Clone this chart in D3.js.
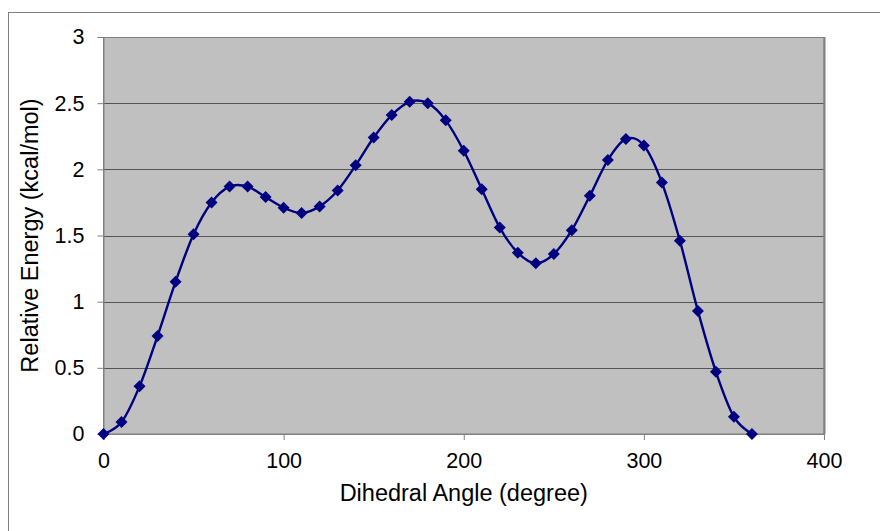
<!DOCTYPE html>
<html><head><meta charset="utf-8">
<script src="https://cdn.jsdelivr.net/npm/d3@7"></script>
<style>body{margin:0;background:#fff}svg{display:block}text{font-family:"Liberation Sans",Arial,sans-serif}</style>
</head><body><svg id="c" width="880" height="531"></svg>
<script>
const angles = [0,10,20,30,40,50,60,70,80,90,100,110,120,130,140,150,160,170,180,190,200,210,220,230,240,250,260,270,280,290,300,310,320,330,340,350,360];
const energies = [0,0.09,0.36,0.74,1.15,1.51,1.75,1.87,1.87,1.79,1.71,1.67,1.72,1.84,2.03,2.24,2.41,2.51,2.50,2.37,2.14,1.85,1.56,1.37,1.29,1.36,1.54,1.80,2.07,2.23,2.18,1.90,1.46,0.93,0.47,0.13,0];
const xTicks = [0,100,200,300,400];
const yTicks = [0,0.5,1,1.5,2,2.5,3];
const xTitle = "Dihedral Angle (degree)";
const yTitle = "Relative Energy (kcal/mol)";

const svg = d3.select("#c");
const L=103.5, R=824, T=37, B=434;
const x = d3.scaleLinear().domain([0,400]).range([L,R]);
const y = d3.scaleLinear().domain([0,3]).range([B,T]);

// outer frame
svg.append("rect").attr("x",8.5).attr("y",12.5).attr("width",900).attr("height",600)
  .attr("fill","none").attr("stroke","#808080").attr("stroke-width",1);

// plot area
svg.append("rect").attr("x",L).attr("y",T).attr("width",R-L).attr("height",B-T).attr("fill","#c0c0c0");

// gridlines
svg.append("g").selectAll("line").data(yTicks.filter(d=>d>0)).join("line")
  .attr("x1",L).attr("x2",R).attr("y1",d=>Math.round(y(d))+0.5).attr("y2",d=>Math.round(y(d))+0.5)
  .attr("stroke","#555").attr("stroke-width",1);

svg.append("rect").attr("x",L).attr("y",T+0.5).attr("width",R-L).attr("height",B-T-0.5)
  .attr("fill","none").attr("stroke","#808080").attr("stroke-width",1);
svg.append("line").attr("x1",R+0.5).attr("x2",R+0.5).attr("y1",T).attr("y2",B).attr("stroke","#808080").attr("stroke-width",2);

// axes
const yAxis = d3.axisLeft(y).tickValues(yTicks).tickSize(6).tickPadding(13).tickFormat(d=>String(d));
const gy = svg.append("g").attr("transform",`translate(${L},0)`).call(yAxis);
const xAxis = d3.axisBottom(x).tickValues(xTicks).tickSize(6).tickPadding(13).tickFormat(d=>String(d));
const gx = svg.append("g").attr("transform",`translate(0,${B})`).call(xAxis);
[gx,gy].forEach(g=>{
  g.select(".domain").attr("stroke","#808080");
  g.selectAll(".tick line").attr("stroke","#808080");
  g.selectAll(".tick text").attr("font-size",21.5).attr("fill","#000").attr("font-family","'Liberation Sans',Arial,sans-serif");
});

// titles
svg.append("text").attr("x",(L+R)/2).attr("y",501).attr("text-anchor","middle").attr("font-size",23.5).text(xTitle);
svg.append("text").attr("transform",`translate(38,${(T+B)/2}) rotate(-90)`).attr("text-anchor","middle").attr("font-size",23.5).text(yTitle);

// line
const pts = angles.map((a,i)=>[a,energies[i]]);
const line = d3.line().x(d=>x(d[0])).y(d=>y(d[1])).curve(d3.curveCatmullRom.alpha(0));
svg.append("path").datum(pts).attr("d",line).attr("fill","none").attr("stroke","#000080").attr("stroke-width",2.4);

// markers
const s=6;
svg.append("g").selectAll("path").data(pts).join("path")
  .attr("transform",d=>`translate(${x(d[0])},${y(d[1])})`)
  .attr("d",`M0,${-s}L${s},0L0,${s}L${-s},0Z`).attr("fill","#000080");
</script></body></html>
